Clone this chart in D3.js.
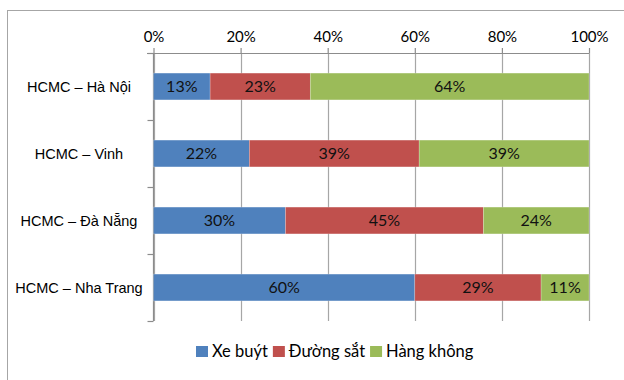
<!DOCTYPE html>
<html>
<head>
<meta charset="utf-8">
<script src="https://cdn.jsdelivr.net/npm/d3@7"></script>
<style>
  html, body { margin: 0; padding: 0; background: #fff; }
  svg { display: block; }
</style>
</head>
<body>
<svg id="chart" width="624" height="380"></svg>
<script>
// Routes and modal shares (%), one array per transport mode
const routes = ["HCMC – Hà Nội", "HCMC – Vinh", "HCMC – Đà Nẵng", "HCMC – Nha Trang"];
const bus   = [13, 22, 30, 60];   // Xe buýt
const rail  = [23, 39, 45, 29];   // Đường sắt
const air   = [64, 39, 24, 11];   // Hàng không
const seriesNames = ["Xe buýt", "Đường sắt", "Hàng không"];
const tickValues = [0, 0.2, 0.4, 0.6, 0.8, 1];

const colors = ["#4F81BD", "#C0504D", "#9BBB59"];
const svg = d3.select("#chart");

// Chart frame
svg.append("rect")
  .attr("x", 7.5).attr("y", 10.5)
  .attr("width", 720).attr("height", 500)
  .attr("fill", "#fff").attr("stroke", "#a6a6a6").attr("stroke-width", 1);

const x = d3.scaleLinear().domain([0, 1]).range([153.5, 589]);
const y = d3.scaleBand().domain(routes).range([53, 321]).paddingInner(0.6).paddingOuter(0.3);

// 100% stacked layout: each row normalised by its own total
const table = routes.map((r, i) => {
  const vals = [bus[i], rail[i], air[i]];
  const total = d3.sum(vals);
  return { route: r, vals, total };
});
const keys = [0, 1, 2];
const stack = d3.stack()
  .keys(keys)
  .value((d, k) => d.vals[k] / d.total);
const layers = stack(table);

// Vertical gridlines
const grid = svg.append("g");
grid.selectAll("line").data(tickValues).join("line")
  .attr("x1", d => Math.round(x(d)) + 0.5).attr("x2", d => Math.round(x(d)) + 0.5)
  .attr("y1", y.range()[0]).attr("y2", y.range()[1])
  .attr("stroke", "#a6a6a6").attr("stroke-width", 1.2);

// Top percentage axis
const xAxis = d3.axisTop(x).tickValues(tickValues)
  .tickFormat(d3.format(".0%")).tickSize(5).tickPadding(6);
const gx = svg.append("g").attr("transform", "translate(0,53)").call(xAxis);
gx.select(".domain").attr("stroke", "#8c8c8c").attr("stroke-width", 1.2)
  .attr("d", `M147,0.5H${x(1)}`);
gx.selectAll(".tick line").attr("stroke", "#8c8c8c").attr("stroke-width", 1.2);
gx.selectAll(".tick text")
  .attr("font-family", "Lato, 'Open Sans', sans-serif")
  .attr("font-size", 15).attr("fill", "#000");

// Left category axis: line and ticks at band boundaries
const step = y.step();
const bounds = d3.range(routes.length + 1).map(i => y.range()[0] + i * step);
svg.append("line")
  .attr("x1", x(0)).attr("x2", x(0))
  .attr("y1", y.range()[0]).attr("y2", y.range()[1])
  .attr("stroke", "#8c8c8c").attr("stroke-width", 1.2);
svg.append("g").selectAll("line").data(bounds).join("line")
  .attr("x1", x(0) - 6).attr("x2", x(0))
  .attr("y1", d => Math.round(d) + 0.5).attr("y2", d => Math.round(d) + 0.5)
  .attr("stroke", "#8c8c8c").attr("stroke-width", 1.2);

// Category labels
svg.append("g").selectAll("text").data(routes).join("text")
  .attr("x", 79)
  .attr("y", d => y(d) + y.bandwidth() / 2)
  .attr("dy", "0.35em")
  .attr("text-anchor", "middle")
  .attr("font-family", "'Liberation Sans', Arial, sans-serif")
  .attr("font-size", 14.5).attr("fill", "#000")
  .text(d => d);

// Stacked bars
layers.forEach((layer, k) => {
  const g = svg.append("g");
  g.selectAll("rect").data(layer).join("rect")
    .attr("x", d => x(d[0]))
    .attr("width", d => x(d[1]) - x(d[0]))
    .attr("y", d => y(d.data.route))
    .attr("height", y.bandwidth())
    .attr("fill", colors[k])
    .attr("stroke", "rgba(255,255,255,0.35)").attr("stroke-width", 0.6);
  g.selectAll("text").data(layer).join("text")
    .attr("x", d => (x(d[0]) + x(d[1])) / 2)
    .attr("y", d => y(d.data.route) + y.bandwidth() / 2)
    .attr("dy", "0.36em")
    .attr("text-anchor", "middle")
    .attr("font-family", "Lato, 'Open Sans', sans-serif")
    .attr("font-size", 16).attr("fill", "#111")
    .text(d => d.data.vals[k] + "%");
});

// Legend
const legend = svg.append("g").attr("transform", "translate(196,346)");
let lx = 0;
seriesNames.forEach((name, k) => {
  legend.append("rect")
    .attr("x", lx).attr("y", 0).attr("width", 12).attr("height", 11)
    .attr("fill", colors[k]);
  const t = legend.append("text")
    .attr("x", lx + 16).attr("y", 5.5).attr("dy", "0.36em")
    .attr("font-family", "Lato, 'Open Sans', sans-serif")
    .attr("font-size", 16.5).attr("fill", "#000")
    .text(name);
  lx += 16 + t.node().getComputedTextLength() + 5;
});
</script>
</body>
</html>
